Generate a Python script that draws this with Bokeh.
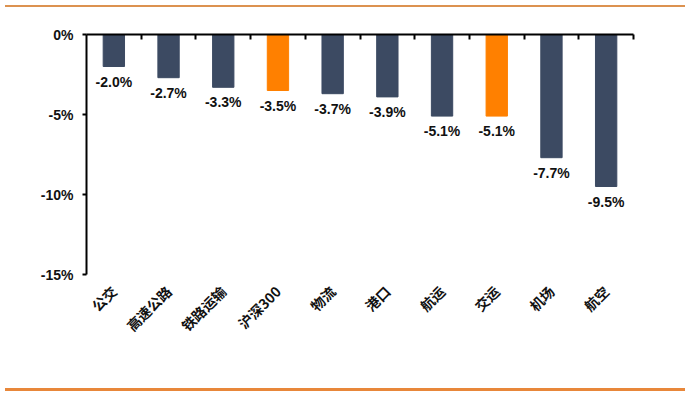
import math
from bokeh.plotting import figure
from bokeh.layouts import column
from bokeh.models import (ColumnDataSource, Range1d, LinearAxis, FixedTicker, LabelSet, Div)
from bokeh.core.properties import value
from bokeh.embed import file_html
from bokeh.resources import INLINE

categories = ["公交", "高速公路", "铁路运输", "沪深300", "物流", "港口", "航运", "交运", "机场", "航空"]
changes = [-2.0, -2.7, -3.3, -3.5, -3.7, -3.9, -5.1, -5.1, -7.7, -9.5]
highlight = ["沪深300", "交运"]
y_ticks = [-15, -10, -5, 0]
y_tick_labels = {-15: "-15%", -10: "-10%", -5: "-5%", 0: "0%"}

DARK = "#3C4A62"
ORANGE = "#FF8000"
n = len(categories)
xpos = [i + 0.5 for i in range(n)]
colors = [ORANGE if c in highlight else DARK for c in categories]
labels = ["%.1f%%" % v for v in changes]

src = ColumnDataSource(dict(x=xpos, val=changes, color=colors, label=labels))

W, H = 686, 381
p = figure(x_range=Range1d(0, n), y_range=Range1d(-15, 0),
           width=W, height=H, output_backend="svg", toolbar_location=None,
           x_axis_location=None, y_axis_location=None,
           min_border_left=86, min_border_right=53, min_border_top=27, min_border_bottom=114,
           margin=0)
p.outline_line_color = None
p.grid.visible = False
p.background_fill_color = "white"

p.vbar(x="x", top=0, bottom="val", width=0.39, color="color", source=src)

# value labels below bars
lbl = LabelSet(x="x", y="val", text="label", source=src, text_align="center",
               text_baseline="top", y_offset=-7, text_font=value("Liberation Sans"),
               text_font_style="bold", text_font_size="14px", text_color="#111111")
p.add_layout(lbl)

# left y axis
ya = LinearAxis(ticker=FixedTicker(ticks=y_ticks), major_label_overrides=y_tick_labels)
ya.axis_line_width = 2
ya.axis_line_color = "black"
ya.major_tick_line_width = 2
ya.major_tick_in = 0
ya.major_tick_out = 4
ya.minor_tick_line_color = None
ya.major_label_standoff = 9
ya.major_label_text_font = "Liberation Sans"
ya.major_label_text_font_style = "bold"
ya.major_label_text_font_size = "14px"
ya.major_label_text_color = "#111111"
p.add_layout(ya, "left")

# top axis line (at 0%) with ticks between categories
ta = LinearAxis(ticker=FixedTicker(ticks=list(range(1, n + 1))))
ta.axis_line_width = 2
ta.axis_line_color = "black"
ta.major_tick_line_width = 2
ta.major_tick_in = 5
ta.major_tick_out = 0
ta.minor_tick_line_color = None
ta.major_label_text_color = None
ta.major_label_text_font_size = "8px"
ta.major_label_standoff = 0
p.add_layout(ta, "above")

# bottom category labels
ba = LinearAxis(ticker=FixedTicker(ticks=xpos),
                major_label_overrides={x: c for x, c in zip(xpos, categories)})
ba.axis_line_color = None
ba.major_tick_line_color = None
ba.minor_tick_line_color = None
ba.major_label_orientation = math.pi / 4
ba.major_label_standoff = 8
ba.major_label_text_font = "Noto Sans CJK SC"
ba.major_label_text_font_style = "bold"
ba.major_label_text_font_size = "14px"
ba.major_label_text_color = "#111111"
p.add_layout(ba, "below")

# decorative orange rules at top and bottom
top_rule = Div(text="", width=680, height=2, margin=(5, 0, 0, 5),
               styles={"background-color": "#DC9250"})
bottom_rule = Div(text="", width=680, height=3, margin=(0, 0, 0, 5),
                  styles={"background-color": "#E8873A"})

layout = column(top_rule, p, bottom_rule, spacing=0, margin=0)

open("out.html", "w").write(file_html(layout, INLINE))
